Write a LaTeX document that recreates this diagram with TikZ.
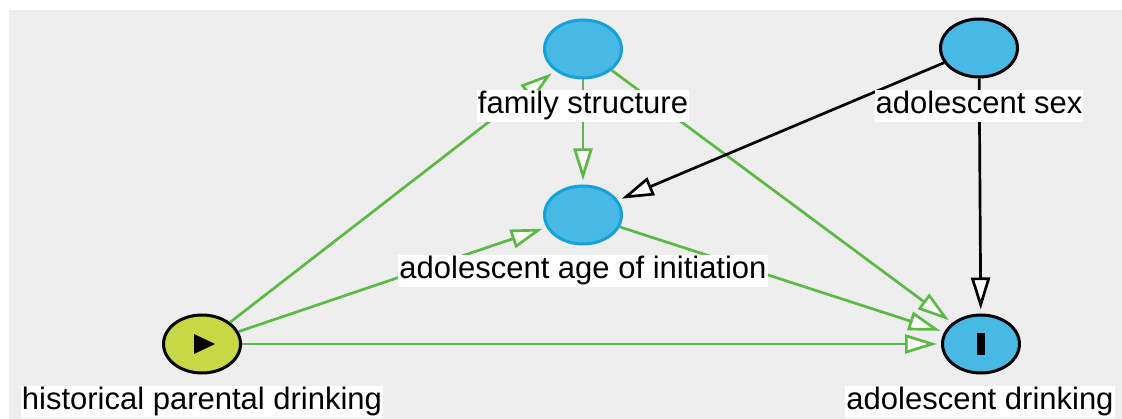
\documentclass[tikz,border=0pt]{standalone}
\usepackage{fontspec}
\setmainfont{Liberation Sans}
\usetikzlibrary{arrows.meta,shapes.geometric}
\definecolor{canvasgrey}{HTML}{EEEEEE}
\definecolor{edgegreen}{HTML}{5CB946}
\definecolor{latentblue}{HTML}{48B8E4}
\definecolor{latentrim}{HTML}{14A2DB}
\definecolor{exposurefill}{HTML}{C8D845}

\begin{document}
\begin{tikzpicture}[x=1pt,y=-1pt,
  var/.style={ellipse, minimum width=77pt, minimum height=58pt, inner sep=0pt, line width=3pt},
  latent/.style={var, fill=latentblue, draw=latentrim},
  plainvar/.style={var, fill=latentblue, draw=black},
  exposurevar/.style={var, fill=exposurefill, draw=black},
  lbl/.style={fill=white, inner xsep=1pt, inner ysep=1.5pt, text height=22pt, text depth=7pt,
    font=\fontsize{31}{36}\selectfont},
  causal/.style={line width=2.7pt, shorten >=4pt,
    -{Triangle[length=32pt, width=19pt, fill=white]}},
  greenedge/.style={causal, draw=edgegreen},
  blackedge/.style={causal, draw=black},
]
\useasboundingbox (0,0) rectangle (1122,419);
\fill[canvasgrey] (9,10) rectangle (1122,419);

% variables
\node[latent] (fs) at (583,49) {};
\node[plainvar] (sex) at (979,48) {};
\node[latent] (aai) at (583,215) {};
\node[exposurevar] (hpd) at (202,344) {};
\node[plainvar] (ad) at (981,344) {};

% causal arrows
\draw[greenedge] (hpd) -- (fs);
\draw[greenedge] (hpd) -- (aai);
\draw[greenedge] (hpd) -- (ad);
\draw[greenedge] (fs) -- (aai);
\draw[greenedge] (fs) -- (ad);
\draw[greenedge] (aai) -- (ad);
\draw[blackedge] (sex) -- (aai);
\draw[blackedge] (sex) -- (ad);

% exposure and outcome markers
\fill[black] (hpd.center) ++(-8,-10) -- ++(21,10) -- ++(-21,10) -- cycle;
\fill[black] (ad.center) ++(-4,-11) rectangle ++(8,22);

% labels
\node[lbl] (fs-l) at (583,106) {family structure};
\node[lbl] (sex-l) at (979,106) {adolescent sex};
\node[lbl] (aai-l) at (583,271) {adolescent age of initiation};
\node[lbl] (hpd-l) at (202,402) {historical parental drinking};
\node[lbl] (ad-l) at (980,402) {adolescent drinking};
\end{tikzpicture}
\end{document}
